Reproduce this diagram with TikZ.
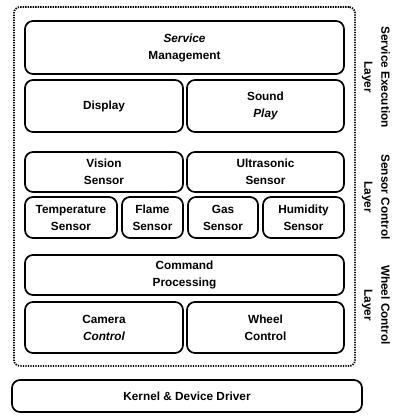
\documentclass[tikz,border=0pt]{standalone}
\usepackage{fontspec}
\setmainfont{Liberation Sans}
\begin{document}
\begin{tikzpicture}[x=1pt,y=-1pt,
  box/.style={draw, line width=1.7pt, rounded corners=8pt, align=center,
    inner sep=0pt, font=\fontsize{11.8}{17}\selectfont\bfseries},
  layerbox/.style={draw, line width=1.8pt, rounded corners=6pt,
    dash pattern=on 1.3pt off 1.2pt, inner sep=0pt},
  layerlabel/.style={rotate=-90, align=center,
    font=\fontsize{11.8}{17}\selectfont\bfseries}]
\useasboundingbox (0,0) rectangle (395,417);

% dotted frame around the three upper layers
\node[layerbox, minimum width=341pt, minimum height=359pt] (layers) at (184.5,186.5) {};

% service execution layer
\node[box, minimum width=319pt, minimum height=53pt] (sm) at (184.5,47.5) {\itshape Service\\Management};
\node[box, minimum width=158pt, minimum height=52pt] (disp) at (104,106) {Display};
\node[box, minimum width=157pt, minimum height=52pt] (sound) at (265.5,106) {Sound\\\itshape Play};

% sensor control layer
\node[box, minimum width=158pt, minimum height=40pt] (vision) at (104,172) {Vision\\Sensor};
\node[box, minimum width=157pt, minimum height=40pt] (ultra) at (265.5,172) {Ultrasonic\\Sensor};
\node[box, minimum width=92pt, minimum height=41pt] (temp) at (71,217.5) {Temperature\\Sensor};
\node[box, minimum width=61pt, minimum height=41pt] (flame) at (152.5,217.5) {Flame\\Sensor};
\node[box, minimum width=70pt, minimum height=41pt] (gas) at (223,217.5) {Gas\\Sensor};
\node[box, minimum width=81pt, minimum height=41pt] (hum) at (303.5,217.5) {Humidity\\Sensor};

% wheel control layer
\node[box, minimum width=319pt, minimum height=40pt] (cmd) at (184.5,275) {Command\\Processing};
\node[box, minimum width=158pt, minimum height=51pt] (cam) at (104,327.5) {Camera\\\itshape Control};
\node[box, minimum width=157pt, minimum height=51pt] (wheel) at (265.5,327.5) {Wheel\\Control};

% bottom layer
\node[box, minimum width=350pt, minimum height=32pt] (kernel) at (187,396) {Kernel \& Device Driver};

% layer names
\node[layerlabel] (lserv) at (376,77) {Service Execution\\Layer};
\node[layerlabel] (lsens) at (376,197) {Sensor Control\\Layer};
\node[layerlabel] (lwheel) at (376,305) {Wheel Control\\Layer};
\end{tikzpicture}
\end{document}
